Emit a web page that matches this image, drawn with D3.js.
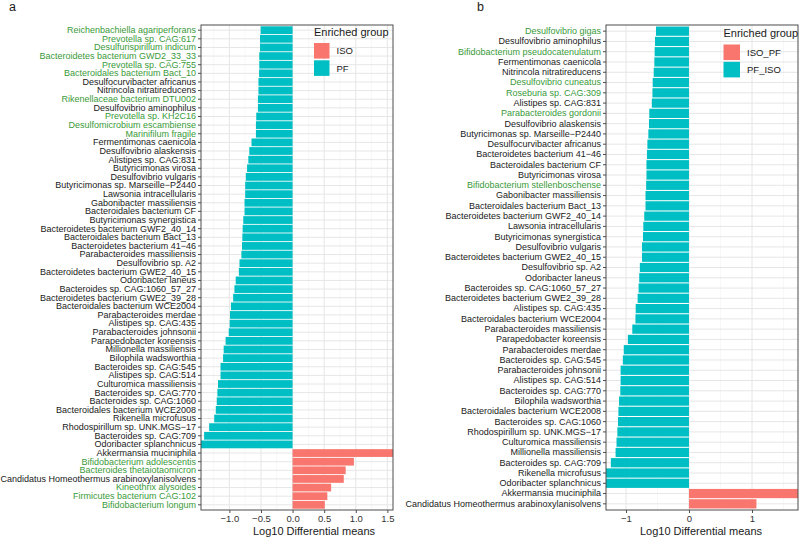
<!DOCTYPE html>
<html><head><meta charset="utf-8">
<script src="https://cdn.jsdelivr.net/npm/d3@7/dist/d3.min.js"></script>
<style>body{margin:0;background:#fff}svg{display:block;font-family:"Liberation Sans",Arial,sans-serif}</style>
</head><body>
<svg id="chart" width="800" height="539"></svg>
<script>
// ---- Panel a data ----
const speciesA = ["Reichenbachiella agariperforans","Prevotella sp. CAG:617","Desulfurispirillum indicum","Bacteroidetes bacterium GWD2_33_33","Prevotella sp. CAG:755","Bacteroidales bacterium Bact_10","Desulfocurvibacter africanus","Nitrincola nitratireducens","Rikenellaceae bacterium DTU002","Desulfovibrio aminophilus","Prevotella sp. KH2C16","Desulfomicrobium escambiense","Marinifilum fragile","Fermentimonas caenicola","Desulfovibrio alaskensis","Alistipes sp. CAG:831","Butyricimonas virosa","Desulfovibrio vulgaris","Butyricimonas sp. Marseille\u2212P2440","Lawsonia intracellularis","Gabonibacter massiliensis","Bacteroidales bacterium CF","Butyricimonas synergistica","Bacteroidetes bacterium GWF2_40_14","Bacteroidales bacterium Bact_13","Bacteroidetes bacterium 41\u221246","Parabacteroides massiliensis","Desulfovibrio sp. A2","Bacteroidetes bacterium GWE2_40_15","Odoribacter laneus","Bacteroides sp. CAG:1060_57_27","Bacteroidetes bacterium GWE2_39_28","Bacteroidales bacterium WCE2004","Parabacteroides merdae","Alistipes sp. CAG:435","Parabacteroides johnsonii","Parapedobacter koreensis","Millionella massiliensis","Bilophila wadsworthia","Bacteroides sp. CAG:545","Alistipes sp. CAG:514","Culturomica massiliensis","Bacteroides sp. CAG:770","Bacteroides sp. CAG:1060","Bacteroidales bacterium WCE2008","Rikenella microfusus","Rhodospirillum sp. UNK.MGS\u221217","Bacteroides sp. CAG:709","Odoribacter splanchnicus","Akkermansia muciniphila","Bifidobacterium adolescentis","Bacteroides thetaiotaomicron","Candidatus Homeothermus arabinoxylanisolvens","Kineothrix alysoides","Firmicutes bacterium CAG:102","Bifidobacterium longum"];
const valuesA = [-0.505,-0.515,-0.515,-0.527,-0.527,-0.53,-0.54,-0.54,-0.548,-0.548,-0.575,-0.58,-0.58,-0.65,-0.685,-0.70,-0.72,-0.74,-0.75,-0.75,-0.76,-0.76,-0.78,-0.79,-0.795,-0.80,-0.81,-0.84,-0.85,-0.90,-0.92,-0.94,-0.975,-0.99,-0.995,-1.01,-1.06,-1.09,-1.10,-1.14,-1.14,-1.18,-1.19,-1.20,-1.215,-1.24,-1.32,-1.40,-1.46,1.65,0.97,0.84,0.81,0.61,0.55,0.51];
const groupsA = ["ISO","PF"];
const greenA = ["Reichenbachiella agariperforans","Prevotella sp. CAG:617","Desulfurispirillum indicum","Bacteroidetes bacterium GWD2_33_33","Prevotella sp. CAG:755","Bacteroidales bacterium Bact_10","Rikenellaceae bacterium DTU002","Prevotella sp. KH2C16","Desulfomicrobium escambiense","Marinifilum fragile","Bifidobacterium adolescentis","Bacteroides thetaiotaomicron","Kineothrix alysoides","Firmicutes bacterium CAG:102","Bifidobacterium longum"];
const ticksA = [-1.0,-0.5,0.0,0.5,1.0,1.5];
const tickLabelsA = ["\u22121.0","\u22120.5","0.0","0.5","1.0","1.5"];
const minorA = [-1.25,-0.75,-0.25,0.25,0.75,1.25];

// ---- Panel b data ----
const speciesB = ["Desulfovibrio gigas","Desulfovibrio aminophilus","Bifidobacterium pseudocatenulatum","Fermentimonas caenicola","Nitrincola nitratireducens","Desulfovibrio cuneatus","Roseburia sp. CAG:309","Alistipes sp. CAG:831","Parabacteroides gordonii","Desulfovibrio alaskensis","Butyricimonas sp. Marseille\u2212P2440","Desulfocurvibacter africanus","Bacteroidetes bacterium 41\u221246","Bacteroidales bacterium CF","Butyricimonas virosa","Bifidobacterium stellenboschense","Gabonibacter massiliensis","Bacteroidales bacterium Bact_13","Bacteroidetes bacterium GWF2_40_14","Lawsonia intracellularis","Butyricimonas synergistica","Desulfovibrio vulgaris","Bacteroidetes bacterium GWE2_40_15","Desulfovibrio sp. A2","Odoribacter laneus","Bacteroides sp. CAG:1060_57_27","Bacteroidetes bacterium GWE2_39_28","Alistipes sp. CAG:435","Bacteroidales bacterium WCE2004","Parabacteroides massiliensis","Parapedobacter koreensis","Parabacteroides merdae","Bacteroides sp. CAG:545","Parabacteroides johnsonii","Alistipes sp. CAG:514","Bacteroides sp. CAG:770","Bilophila wadsworthia","Bacteroidales bacterium WCE2008","Bacteroides sp. CAG:1060","Rhodospirillum sp. UNK.MGS\u221217","Culturomica massiliensis","Millionella massiliensis","Bacteroides sp. CAG:709","Rikenella microfusus","Odoribacter splanchnicus","Akkermansia muciniphila","Candidatus Homeothermus arabinoxylanisolvens"];
const valuesB = [-0.524,-0.54,-0.545,-0.55,-0.56,-0.576,-0.58,-0.59,-0.63,-0.635,-0.645,-0.66,-0.667,-0.675,-0.675,-0.68,-0.69,-0.69,-0.71,-0.725,-0.73,-0.746,-0.746,-0.78,-0.79,-0.80,-0.815,-0.846,-0.85,-0.90,-0.97,-1.035,-1.05,-1.085,-1.085,-1.09,-1.11,-1.12,-1.127,-1.137,-1.15,-1.165,-1.24,-1.32,-1.32,1.80,1.07];
const groupsB = ["ISO_PF","PF_ISO"];
const greenB = ["Desulfovibrio gigas","Bifidobacterium pseudocatenulatum","Desulfovibrio cuneatus","Roseburia sp. CAG:309","Parabacteroides gordonii","Bifidobacterium stellenboschense"];
const ticksB = [-1,0,1];
const tickLabelsB = ["\u22121","0","1"];
const minorB = [-0.5,0.5,1.5];

const colPos = "#F8766D", colNeg = "#00BFC4", colGreen = "#3a9a3a";
const svg = d3.select("#chart");

function panel(o){
  const g = svg.append("g");
  const x = d3.scaleLinear().domain(o.xdom).range([o.left,o.right]);
  const y = d3.scaleBand().domain(o.cats).range([o.top,o.bottom]).paddingInner(0.1).paddingOuter(0.15);
  const clipId = "clip"+o.id;
  svg.append("clipPath").attr("id",clipId).append("rect")
    .attr("x",o.left).attr("y",o.top).attr("width",o.right-o.left).attr("height",o.bottom-o.top);
  // grid
  g.selectAll(".mn").data(o.minor).join("line")
    .attr("x1",d=>x(d)).attr("x2",d=>x(d)).attr("y1",o.top).attr("y2",o.bottom)
    .attr("stroke","#f2f2f2").attr("stroke-width",0.6);
  g.selectAll(".mj").data(o.ticks).join("line")
    .attr("x1",d=>x(d)).attr("x2",d=>x(d)).attr("y1",o.top).attr("y2",o.bottom)
    .attr("stroke","#e6e6e6").attr("stroke-width",1);
  g.selectAll(".hg").data(o.cats).join("line")
    .attr("x1",o.left).attr("x2",o.right).attr("y1",d=>y(d)+y.bandwidth()/2).attr("y2",d=>y(d)+y.bandwidth()/2)
    .attr("stroke","#e6e6e6").attr("stroke-width",1);
  // bars
  g.append("g").attr("clip-path",`url(#${clipId})`).selectAll("rect").data(o.cats).join("rect")
    .attr("x",(d,i)=>x(Math.min(0,o.vals[i])))
    .attr("width",(d,i)=>Math.abs(x(o.vals[i])-x(0)))
    .attr("y",d=>y(d)).attr("height",y.bandwidth())
    .attr("fill",(d,i)=>o.vals[i]>0?colPos:colNeg);
  // border
  g.append("rect").attr("x",o.left).attr("y",o.top).attr("width",o.right-o.left).attr("height",o.bottom-o.top)
    .attr("fill","none").attr("stroke","#4d4d4d").attr("stroke-width",1);
  // y axis
  const ya = g.append("g").attr("transform",`translate(${o.left},0)`)
    .call(d3.axisLeft(y).tickSize(3).tickPadding(2));
  ya.select(".domain").remove();
  ya.selectAll(".tick line").attr("stroke","#4d4d4d");
  ya.selectAll(".tick text").attr("font-size",9).attr("font-family","'Liberation Sans',Arial,sans-serif")
    .attr("fill",d=>o.green.includes(d)?colGreen:"#1a1a1a");
  // x axis
  const xa = g.append("g").attr("transform",`translate(0,${o.bottom})`)
    .call(d3.axisBottom(x).tickValues(o.ticks).tickFormat((d,i)=>o.tickLabels[i]).tickSize(3).tickPadding(2));
  xa.select(".domain").remove();
  xa.selectAll(".tick line").attr("stroke","#4d4d4d");
  xa.selectAll(".tick text").attr("font-size",9.5).attr("fill","#333").attr("font-family","'Liberation Sans',Arial,sans-serif");
  g.append("text").attr("x",o.titleX).attr("y",535).attr("text-anchor","middle")
    .attr("font-size",11).attr("fill","#1a1a1a").text("Log10 Differential means");
  // legend
  const lg = g.append("g");
  lg.append("text").attr("x",o.lx).attr("y",o.ly).attr("font-size",11).attr("fill","#1a1a1a").text("Enriched group");
  o.groups.forEach((gname,i)=>{
    lg.append("rect").attr("x",o.lx).attr("y",o.ly+7.5+i*17.3).attr("width",o.kw).attr("height",15.6)
      .attr("fill",i===0?colPos:colNeg);
    lg.append("text").attr("x",o.lx+o.kw+7).attr("y",o.ly+7.5+i*17.3+11.3).attr("font-size",9.5).attr("fill","#1a1a1a").text(gname);
  });
  // panel tag
  g.append("text").attr("x",o.tagX).attr("y",11).attr("font-size",12.5).attr("fill","#1a1a1a").text(o.tag);
}

panel({id:"a",cats:speciesA,vals:valuesA,green:greenA,groups:groupsA,ticks:ticksA,tickLabels:tickLabelsA,minor:minorA,
  xdom:[-1.449,1.589],left:201,right:393,top:25,bottom:510,titleX:314,lx:314,ly:35.5,kw:15.5,tag:"a",tagX:9});
panel({id:"b",cats:speciesB,vals:valuesB,green:greenB,groups:groupsB,ticks:ticksB,tickLabels:tickLabelsB,minor:minorB,
  xdom:[-1.317,1.73],left:606,right:798,top:25,bottom:510,titleX:701,lx:723.5,ly:37,kw:16.5,tag:"b",tagX:477});
</script>
</body></html>
